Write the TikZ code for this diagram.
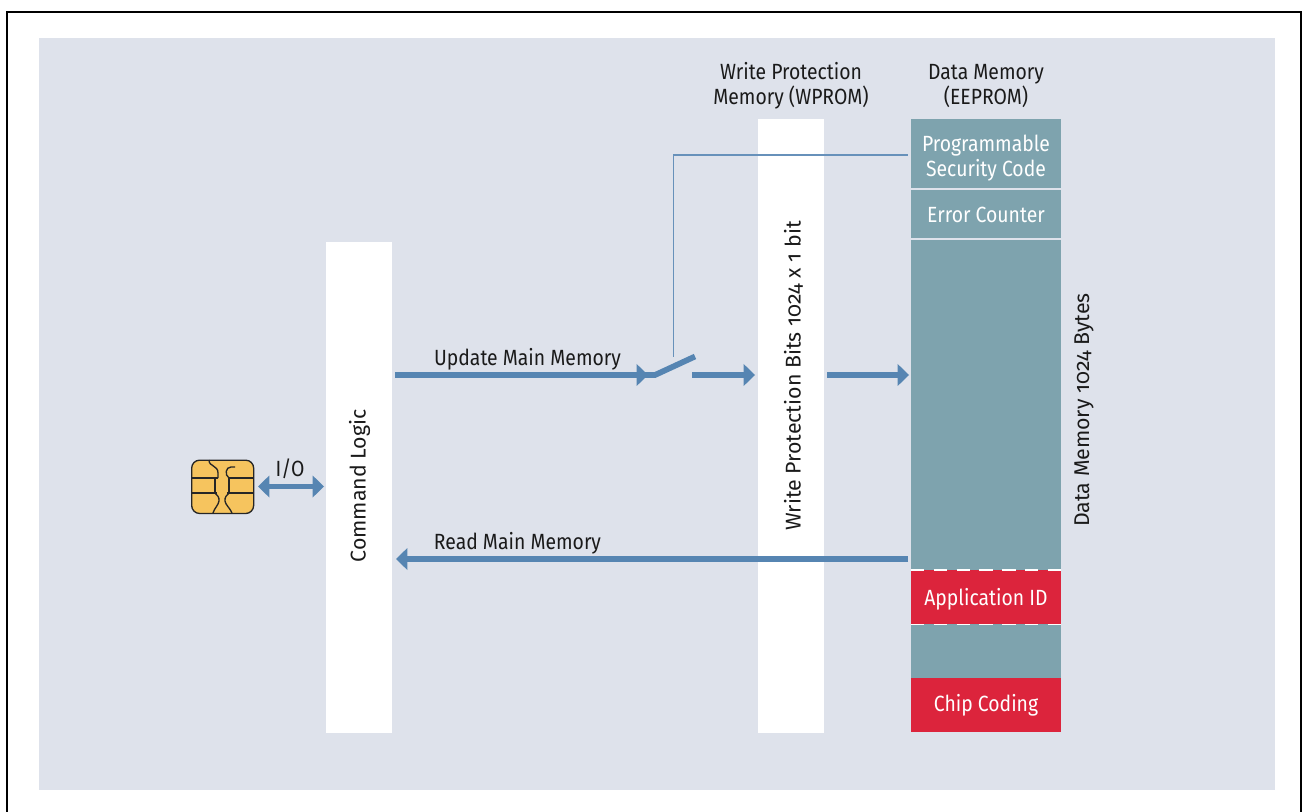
\documentclass[tikz,border=0pt]{standalone}
\usepackage{fontspec}
\setmainfont[FakeStretch=0.88,Numbers=OldStyle]{Fira Sans}
\newfontfamily\rotfont[Numbers=OldStyle]{Fira Sans}
\usetikzlibrary{arrows.meta}
\definecolor{bgc}{HTML}{DEE2EB}
\definecolor{teal}{HTML}{7EA3AE}
\definecolor{redc}{HTML}{DC243C}
\definecolor{bluec}{HTML}{5685B2}
\definecolor{chipc}{HTML}{F6C45E}
\definecolor{inkc}{HTML}{1A1A1A}
\tikzset{
  x=0.75pt,y=-0.75pt,
  lab/.style={font=\fontsize{16.5}{18.75}\selectfont,text=inkc,inner sep=0,align=center},
  wlab/.style={lab,text=white},
  rlab/.style={font=\rotfont\fontsize{16}{18.75}\selectfont,text=inkc,inner sep=0,rotate=90},
  flow/.style={draw=bluec,line width=4.3pt,-{Triangle[length=8.5pt,width=16.5pt,line width=0pt]}},
  both/.style={draw=bluec,line width=4.3pt,{Triangle[length=8.5pt,width=16.5pt,line width=0pt]}-{Triangle[length=8.5pt,width=16.5pt,line width=0pt]}},
  seg/.style={fill=teal,draw=none,inner sep=0,anchor=north west,minimum width=112.5pt},
  red/.style={fill=redc,draw=none,inner sep=0,anchor=north west,minimum width=112.5pt},
  col/.style={fill=white,inner sep=0,anchor=north west,minimum width=49.5pt},
  dashlim/.style={white,line width=1.1pt,dash pattern=on 10pt off 7.1pt},
  chipline/.style={draw=black!85,line width=1pt}
}
\begin{document}
\begin{tikzpicture}
\useasboundingbox (0,0) rectangle (1302,812);
\fill[white] (0,0) rectangle (1302,812);
% frame
\draw[black,line width=1.6pt] (7,812) -- (7,12) -- (1301,12) -- (1301,812);
\fill[bgc] (39,38) rectangle (1275,790);
% columns
\node[col,minimum height=368pt] (cmd) at (326,242) {};
\node[col,minimum height=460.5pt] (wp) at (758,119) {};
\node[seg,minimum height=51.5pt] (psc) at (911,119) {};
\node[seg,minimum height=36.5pt] (err) at (911,189.5) {};
\node[seg,minimum height=247.5pt] (main) at (911,239.5) {};
\node[red,minimum height=40.5pt] (app) at (911,570) {};
\node[seg,minimum height=40.5pt] (gap) at (911,624) {};
\node[red,minimum height=40.5pt] (chipc) at (911,678) {};
% dashed limits
\draw[dashlim] (app.north west) -- (app.north east);
\draw[dashlim] (app.south west) -- (app.south east);
% texts
\node[wlab] at (986,158.5) {Programmable\\Security Code};
\node[wlab] at (986,215) {Error Counter};
\node[wlab] at (986,599) {Application ID};
\node[wlab] at (986,705.5) {Chip Coding};
\node[lab] at (791,86) {Write Protection\\Memory (WPROM)};
\node[lab] at (986,86) {Data Memory\\(EEPROM)};
\node[rlab] at (359.5,486) {Command Logic};
\node[rlab] at (793.5,376) {Write Protection Bits 1024 x 1 bit};
\node[rlab] at (1084,410) {Data Memory 1024 Bytes};
\node[lab] at (527.5,359) {Update Main Memory};
\node[lab] at (517.5,543.5) {Read Main Memory};
\node[lab] at (290,469) {I/O};
% chip
\node[fill=chipc,draw=black!85,line width=1pt,rounded corners=6pt,minimum width=46.5pt,minimum height=40pt,inner sep=0,anchor=north west] (chip) at (191,459.5) {};
\draw[chipline] (209,460) .. controls (209,467) and (218,465) .. (218,473) -- (218,478);
\draw[chipline] (191.5,478) -- (218,478);
\draw[chipline] (215,478) -- (215,493);
\draw[chipline] (191.5,493) -- (217,493);
\draw[chipline] (215,493) .. controls (217,495) and (219.5,497) .. (219,501) .. controls (218.5,505) and (214.5,508) .. (213,513);
\draw[chipline] (253,478) -- (229,478) -- (229,493);
\draw[chipline] (253,493) -- (227,493);
\draw[chipline] (229,493) .. controls (227,495) and (224.5,497) .. (225,501) .. controls (225.5,505) and (230,508) .. (232,513);
\draw[chipline] (235,467) -- (231,467) .. controls (225.5,467) and (224.5,475) .. (229,478);
% connectors
\coordinate (ioL) at (258,486.5);
\coordinate (ioR) at (324,486.5);
\draw[both] (ioL) -- (ioR);
\coordinate (u1) at (395,375);
\coordinate (u2) at (648,375);
\coordinate (sw0) at (655,375);
\coordinate (sw2) at (695,356.5);
\coordinate (u3) at (692,375);
\coordinate (u4) at (755,375);
\coordinate (u5) at (827,375);
\coordinate (u6) at (909,375);
\coordinate (r1) at (908,559);
\coordinate (r2) at (396,559);
\draw[flow] (u1) -- (u2);
\draw[bluec,line width=4.3pt] (640,375) -- (sw0) -- (sw2);
\draw[flow] (u3) -- (u4);
\draw[flow] (u5) -- (u6);
\draw[flow] (r1) -- (r2);
\coordinate (c2) at (673.5,357);
\coordinate (c3) at (908,155);
\draw[bluec!90!white,line width=0.9pt] (c2) |- (c3);
\end{tikzpicture}
\end{document}
